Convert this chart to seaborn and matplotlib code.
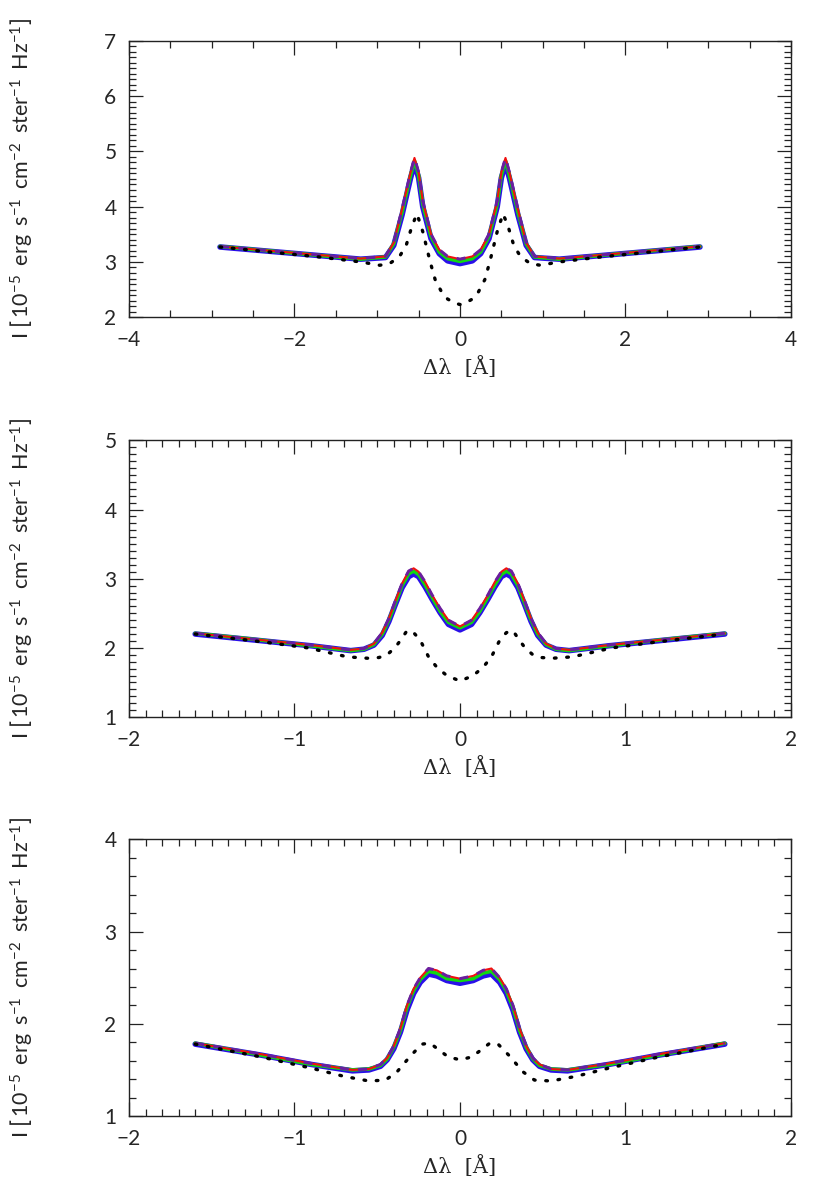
import numpy as np
import seaborn as sns
import matplotlib.pyplot as plt
from matplotlib.ticker import MultipleLocator

# panel 1 (coarse sampling)
x1 = [-2.9, -1.2, -0.9, -0.8, -0.7, -0.6, -0.55, -0.5, -0.45, -0.35, -0.25, -0.15, 0.0,
      0.15, 0.25, 0.35, 0.45, 0.5, 0.55, 0.6, 0.7, 0.8, 0.9, 1.2, 2.9]
red1 = [3.28, 3.06, 3.10, 3.35, 3.95, 4.60, 4.88, 4.62, 4.10, 3.50, 3.22, 3.10, 3.05,
        3.10, 3.22, 3.50, 4.10, 4.62, 4.88, 4.60, 3.95, 3.35, 3.10, 3.06, 3.28]
green1 = [3.28, 3.05, 3.09, 3.33, 3.90, 4.55, 4.83, 4.57, 4.05, 3.46, 3.18, 3.06, 3.01,
          3.06, 3.18, 3.46, 4.05, 4.57, 4.83, 4.55, 3.90, 3.33, 3.09, 3.05, 3.28]
blue1 = [3.27, 3.05, 3.08, 3.30, 3.85, 4.50, 4.78, 4.52, 4.00, 3.42, 3.15, 3.02, 2.97,
         3.02, 3.15, 3.42, 4.00, 4.52, 4.78, 4.50, 3.85, 3.30, 3.08, 3.05, 3.27]
xd1 = [-2.9, -1.7, -1.2, -0.97, -0.85, -0.73, -0.65, -0.58, -0.52, -0.45, -0.36, -0.3, -0.22,
       -0.15, -0.07, 0.0, 0.07, 0.15, 0.22, 0.3, 0.36, 0.45, 0.52, 0.58, 0.65, 0.73, 0.85,
       0.97, 1.2, 1.7, 2.9]
dot1 = [3.27, 3.09, 3.00, 2.94, 2.97, 3.10, 3.30, 3.65, 3.87, 3.55, 3.00, 2.68, 2.45,
        2.33, 2.26, 2.23, 2.26, 2.33, 2.45, 2.68, 3.00, 3.55, 3.87, 3.65, 3.30, 3.10, 2.97,
        2.94, 3.00, 3.09, 3.27]

# panel 2
x2 = [-1.6, -1.27, -0.9, -0.66, -0.58, -0.52, -0.47, -0.43, -0.39, -0.35, -0.31, -0.28, -0.25,
      -0.21, -0.17, -0.12, -0.07, 0.0, 0.07, 0.12, 0.17, 0.21, 0.25, 0.28, 0.31, 0.35, 0.39,
      0.43, 0.47, 0.52, 0.58, 0.66, 0.9, 1.27, 1.6]
red2 = [2.21, 2.13, 2.04, 1.97, 1.99, 2.06, 2.22, 2.42, 2.68, 2.93, 3.11, 3.15, 3.10,
        2.95, 2.77, 2.57, 2.40, 2.31, 2.40, 2.57, 2.77, 2.95, 3.10, 3.15, 3.11, 2.93, 2.68,
        2.42, 2.22, 2.06, 1.99, 1.97, 2.04, 2.13, 2.21]
green2 = [2.21, 2.13, 2.03, 1.96, 1.98, 2.05, 2.20, 2.40, 2.65, 2.90, 3.07, 3.11, 3.06,
          2.91, 2.74, 2.53, 2.37, 2.29, 2.37, 2.53, 2.74, 2.91, 3.06, 3.11, 3.07, 2.90, 2.65,
          2.40, 2.20, 2.05, 1.98, 1.96, 2.03, 2.13, 2.21]
blue2 = [2.20, 2.12, 2.03, 1.96, 1.98, 2.04, 2.18, 2.38, 2.63, 2.87, 3.03, 3.07, 3.03,
         2.88, 2.71, 2.51, 2.34, 2.26, 2.34, 2.51, 2.71, 2.88, 3.03, 3.07, 3.03, 2.87, 2.63,
         2.38, 2.18, 2.04, 1.98, 1.96, 2.03, 2.12, 2.20]
xd2 = [-1.6, -1.17, -0.92, -0.68, -0.56, -0.49, -0.44, -0.39, -0.35, -0.32, -0.28, -0.24,
       -0.19, -0.14, -0.08, 0.0, 0.08, 0.14, 0.19, 0.24, 0.28, 0.32, 0.35, 0.39, 0.44, 0.49,
       0.56, 0.68, 0.92, 1.17, 1.6]
dot2 = [2.20, 2.08, 2.00, 1.87, 1.85, 1.86, 1.90, 2.01, 2.14, 2.25, 2.22, 2.11,
        1.87, 1.72, 1.60, 1.52, 1.60, 1.72, 1.87, 2.11, 2.22, 2.25, 2.14, 2.01, 1.90, 1.86,
        1.85, 1.87, 2.00, 2.08, 2.20]

# panel 3
x3 = [-1.6, -1.2, -0.9, -0.65, -0.55, -0.48, -0.44, -0.4, -0.36, -0.32, -0.28, -0.24, -0.19,
      -0.14, -0.08, 0.0, 0.08, 0.14, 0.19, 0.24, 0.28, 0.32, 0.36, 0.4, 0.44, 0.48, 0.55,
      0.65, 0.9, 1.2, 1.6]
red3 = [1.79, 1.67, 1.57, 1.50, 1.51, 1.56, 1.63, 1.76, 1.95, 2.20, 2.38, 2.50, 2.60,
        2.58, 2.52, 2.49, 2.52, 2.58, 2.60, 2.50, 2.38, 2.20, 1.95, 1.76, 1.63, 1.56, 1.51,
        1.50, 1.57, 1.67, 1.79]
green3 = [1.79, 1.66, 1.56, 1.50, 1.51, 1.55, 1.62, 1.75, 1.93, 2.18, 2.36, 2.48, 2.57,
          2.55, 2.49, 2.47, 2.49, 2.55, 2.57, 2.48, 2.36, 2.18, 1.93, 1.75, 1.62, 1.55, 1.51,
          1.50, 1.56, 1.66, 1.79]
blue3 = [1.78, 1.66, 1.56, 1.49, 1.50, 1.54, 1.61, 1.73, 1.91, 2.15, 2.33, 2.45, 2.54,
         2.52, 2.47, 2.44, 2.47, 2.52, 2.54, 2.45, 2.33, 2.15, 1.91, 1.73, 1.61, 1.54, 1.50,
         1.49, 1.56, 1.66, 1.78]
xd3 = [-1.6, -1.2, -0.9, -0.7, -0.55, -0.45, -0.38, -0.3, -0.23, -0.18, -0.13, -0.07, 0.0,
       0.07, 0.13, 0.18, 0.23, 0.3, 0.38, 0.45, 0.55, 0.7, 0.9, 1.2, 1.6]
dot3 = [1.78, 1.64, 1.52, 1.43, 1.38, 1.39, 1.48, 1.65, 1.78, 1.79, 1.72, 1.64, 1.61,
        1.64, 1.72, 1.79, 1.78, 1.65, 1.48, 1.39, 1.38, 1.43, 1.52, 1.64, 1.78]

panels = [
    dict(x=x1, red=red1, green=green1, blue=blue1, xd=xd1, dot=dot1,
         xlim=(-4, 4), ylim=(2, 7), xmaj=2, xmin=0.5, ymaj=1, ymin=0.1),
    dict(x=x2, red=red2, green=green2, blue=blue2, xd=xd2, dot=dot2,
         xlim=(-2, 2), ylim=(1, 5), xmaj=1, xmin=0.1, ymaj=1, ymin=0.1),
    dict(x=x3, red=red3, green=green3, blue=blue3, xd=xd3, dot=dot3,
         xlim=(-2, 2), ylim=(1, 4), xmaj=1, xmin=0.1, ymaj=1, ymin=0.2),
]

sns.set_style("ticks")
plt.rcParams['font.family'] = ['Lato', 'DejaVu Sans']
plt.rcParams['mathtext.fontset'] = 'custom'
plt.rcParams['mathtext.rm'] = 'Lato'
plt.rcParams['mathtext.it'] = 'Lato:italic'

fig = plt.figure(figsize=(8.3, 11.99), dpi=100)
bottoms = [0.7354, 0.4020, 0.0692]
ylab = (r'I $\left[\,10^{-5}\;\;\mathrm{erg}\;\;\mathrm{s}^{-1}\;\;\mathrm{cm}^{-2}'
        r'\;\;\mathrm{ster}^{-1}\;\;\mathrm{Hz}^{-1}\right]$')

for p, b in zip(panels, bottoms):
    ax = fig.add_axes([0.1554, b, 0.7976, 0.2307])
    sns.lineplot(x=p['x'], y=p['green'], ax=ax, color='black', lw=1.2, sort=False)
    sns.lineplot(x=p['x'], y=p['blue'], ax=ax, color='#2a10e8', lw=4.0, sort=False)
    sns.lineplot(x=p['x'], y=p['green'], ax=ax, color='#10d810', lw=2.6, sort=False)
    sns.lineplot(x=p['x'], y=p['red'], ax=ax, color='#f01010', lw=1.5, sort=False)
    sns.lineplot(x=p['x'], y=p['red'], ax=ax, color='#6a1fa0', lw=2.2, sort=False,
                 linestyle=(0, (3, 3)))
    sns.lineplot(x=p['xd'], y=p['dot'], ax=ax, color='black', lw=2.4, sort=False,
                 linestyle=(0, (0.5, 3.2)), dash_capstyle='round')
    ax.set_xlim(*p['xlim'])
    ax.set_ylim(*p['ylim'])
    ax.xaxis.set_major_locator(MultipleLocator(p['xmaj']))
    ax.xaxis.set_minor_locator(MultipleLocator(p['xmin']))
    ax.yaxis.set_major_locator(MultipleLocator(p['ymaj']))
    ax.yaxis.set_minor_locator(MultipleLocator(p['ymin']))
    ax.tick_params(which='both', direction='in', top=True, right=True, width=0.9,
                   color='#222222')
    ax.tick_params(which='major', length=10, labelsize=15, pad=9)
    ax.tick_params(which='minor', length=5)
    for s in ax.spines.values():
        s.set_linewidth(1.0)
        s.set_color('#222222')
    ax.set_xlabel('Δλ  [Å]', fontsize=15, family='DejaVu Serif')
    ax.xaxis.set_label_coords(0.5, -0.14)
    ax.set_ylabel(ylab, fontsize=15.5)
    ax.yaxis.set_label_coords(-0.14, 0.5)

fig.savefig('out.png', dpi=100)
